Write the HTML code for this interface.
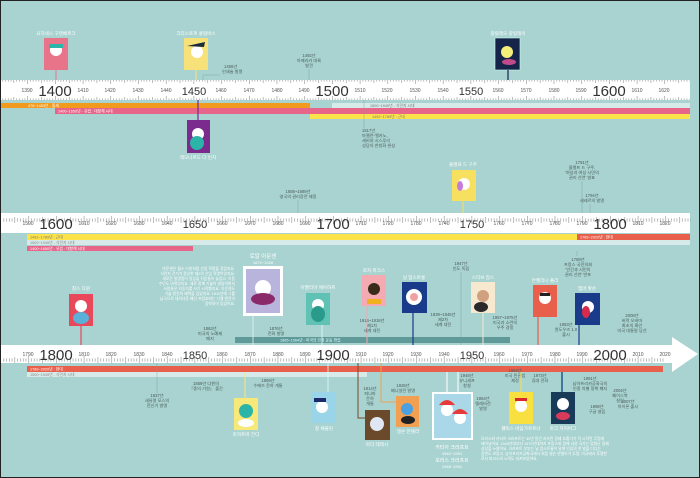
<!DOCTYPE html>
<html><head><meta charset="utf-8"><style>
html,body{margin:0;padding:0;background:#a8d3d0}
svg{display:block}
text{font-family:"Liberation Sans","Noto Sans CJK KR",sans-serif}
.s{font-size:5px;fill:#555;text-anchor:middle}
.c{font-size:15px;fill:#333;text-anchor:middle}
.n{font-size:4.2px;fill:#4a5a5a;text-anchor:middle}
.w{font-size:4.6px;fill:#fff;text-anchor:middle}
.b{font-size:3.8px;fill:#fff}
</style></head><body>
<svg width="700" height="478" viewBox="0 0 700 478" xmlns="http://www.w3.org/2000/svg">
<defs>
<pattern id="tk" patternUnits="userSpaceOnUse" width="27.7" height="20" x="0" y="0">
<g stroke="#777" stroke-width="0.5">
<line x1="0.3" y1="0" x2="0.3" y2="4"/><line x1="0.3" y1="16" x2="0.3" y2="20"/>
<line x1="14.15" y1="0" x2="14.15" y2="3"/><line x1="14.15" y1="17" x2="14.15" y2="20"/>
<line x1="3.07" y1="0" x2="3.07" y2="1.6"/><line x1="5.84" y1="0" x2="5.84" y2="1.6"/><line x1="8.61" y1="0" x2="8.61" y2="1.6"/><line x1="11.38" y1="0" x2="11.38" y2="1.6"/>
<line x1="16.92" y1="0" x2="16.92" y2="1.6"/><line x1="19.69" y1="0" x2="19.69" y2="1.6"/><line x1="22.46" y1="0" x2="22.46" y2="1.6"/><line x1="25.23" y1="0" x2="25.23" y2="1.6"/>
<line x1="3.07" y1="18.4" x2="3.07" y2="20"/><line x1="5.84" y1="18.4" x2="5.84" y2="20"/><line x1="8.61" y1="18.4" x2="8.61" y2="20"/><line x1="11.38" y1="18.4" x2="11.38" y2="20"/>
<line x1="16.92" y1="18.4" x2="16.92" y2="20"/><line x1="19.69" y1="18.4" x2="19.69" y2="20"/><line x1="22.46" y1="18.4" x2="22.46" y2="20"/><line x1="25.23" y1="18.4" x2="25.23" y2="20"/>
</g></pattern>
</defs>
<rect x="0.5" y="0.5" width="699" height="477" fill="#a8d3d0" stroke="#222" stroke-width="1"/>

<!-- ===== RULER 1 ===== -->
<rect x="1" y="80" width="689" height="20" fill="#fff"/>
<rect x="1" y="80" width="689" height="20" fill="url(#tk)" transform="translate(-0.3,0)"/>
<g class="s">
<text x="27" y="92">1390</text><text x="83" y="92">1410</text><text x="110" y="92">1420</text><text x="138" y="92">1430</text><text x="166" y="92">1440</text><text x="221" y="92">1460</text><text x="249" y="92">1470</text><text x="277" y="92">1480</text><text x="304" y="92">1490</text><text x="360" y="92">1510</text><text x="387" y="92">1520</text><text x="415" y="92">1530</text><text x="443" y="92">1540</text><text x="498" y="92">1560</text><text x="526" y="92">1570</text><text x="554" y="92">1580</text><text x="581" y="92">1590</text><text x="637" y="92">1610</text><text x="664" y="92">1620</text>
</g>
<g class="c"><text x="55" y="96">1400</text><text x="194" y="95" style="font-size:11px">1450</text><text x="332" y="96">1500</text><text x="471" y="95" style="font-size:11px">1550</text><text x="609" y="96">1600</text></g>
<rect x="1" y="103" width="309" height="5" fill="#f29a1e"/>
<rect x="332" y="103" width="358" height="5" fill="#d6ebe9"/>
<rect x="55" y="108" width="635" height="6" fill="#e8658a"/>
<rect x="310" y="114" width="380" height="5" fill="#fde34a"/>
<text class="b" x="28" y="107">476~1453년 - 중세</text>
<text class="b" x="58" y="112.5">1400~1650년 - 유럽 : 대항해 시대</text>
<text x="370" y="107" style="font-size:3.8px;fill:#777">1500~1945년 - 식민지 시대</text>
<text x="372" y="118" style="font-size:3.8px;fill:#777">1492~1789년 : 근대</text>

<text class="w" x="56" y="35">요하네스 구텐베르크</text>
<rect x="44" y="38" width="24" height="32" fill="#e8748a"/><circle cx="56" cy="50" r="6" fill="#fff"/><rect x="49" y="44" width="14" height="4" fill="#2bb5a8"/>
<line x1="56" y1="70" x2="56" y2="80" stroke="#e8748a" stroke-width="1"/>
<text class="w" x="196" y="35">크리스토퍼 콜럼버스</text>
<rect x="184" y="38" width="24" height="32" fill="#f7e27a"/><circle cx="197" cy="52" r="6" fill="#fff"/><path d="M187 46 L205 42 L204 47 Z" fill="#1a2a3a"/>
<line x1="196" y1="70" x2="196" y2="80" stroke="#f7e27a" stroke-width="1"/>
<text class="n" x="224" y="68" style="text-anchor:start">1455년</text><text class="n" x="222" y="73" style="text-anchor:start">인쇄술 발명</text>
<polyline points="203,80 203,75 220,75" fill="none" stroke="#7a9a9a" stroke-width="0.4"/>
<text class="n" x="309" y="57">1492년</text><text class="n" x="309" y="62">아메리카 대륙</text><text class="n" x="309" y="67">발견</text>
<line x1="309" y1="69" x2="309" y2="80" stroke="#7a9a9a" stroke-width="0.4"/>
<text class="w" x="508" y="35">갈릴레오 갈릴레이</text>
<rect x="495" y="38" width="25" height="32" fill="#16244a" stroke="#cfe" stroke-width="0.6"/><circle cx="507" cy="52" r="6" fill="#f4f07a"/><ellipse cx="509" cy="62" rx="7" ry="3" fill="#c04a8a"/>
<line x1="508" y1="70" x2="508" y2="80" stroke="#16244a" stroke-width="1.2"/>
<line x1="198" y1="100" x2="198" y2="120" stroke="#7b2a8e" stroke-width="1.2"/>
<rect x="187" y="120" width="23" height="33" fill="#7b2a8e"/><circle cx="198" cy="134" r="6" fill="#fff"/><ellipse cx="197" cy="143" rx="7" ry="7" fill="#2bb5a8"/>
<text class="w" x="198" y="159">레오나르도 다 빈치</text>
<line x1="364" y1="100" x2="364" y2="128" stroke="#7a9a9a" stroke-width="0.4"/>
<text class="n" x="362" y="132" style="text-anchor:start">1517년</text><text class="n" x="362" y="137" style="text-anchor:start">마젤란-엘카노,</text><text class="n" x="362" y="142" style="text-anchor:start">세비야 시스루리</text><text class="n" x="362" y="147" style="text-anchor:start">성당의 한창화 완성</text>

<!-- ===== RULER 2 ===== -->
<rect x="1" y="213" width="689" height="20" fill="#fff"/>
<rect x="1" y="213" width="689" height="20" fill="url(#tk)" transform="translate(0.7,0)"/>
<g class="s">
<text x="28" y="225">1590</text><text x="84" y="225">1610</text><text x="111" y="225">1620</text><text x="139" y="225">1630</text><text x="167" y="225">1640</text><text x="222" y="225">1660</text><text x="250" y="225">1670</text><text x="278" y="225">1680</text><text x="305" y="225">1690</text><text x="361" y="225">1710</text><text x="388" y="225">1720</text><text x="416" y="225">1730</text><text x="444" y="225">1740</text><text x="499" y="225">1760</text><text x="527" y="225">1770</text><text x="555" y="225">1780</text><text x="582" y="225">1790</text><text x="638" y="225">1810</text><text x="665" y="225">1820</text>
</g>
<g class="c"><text x="56" y="229">1600</text><text x="195" y="228" style="font-size:11px">1650</text><text x="333" y="229">1700</text><text x="472" y="228" style="font-size:11px">1750</text><text x="610" y="229">1800</text></g>
<rect x="27" y="234" width="663" height="6" fill="#fde34a"/>
<rect x="577" y="234" width="113" height="6" fill="#e8604c"/>
<rect x="27" y="240" width="663" height="5" fill="#d6ebe9"/>
<rect x="27" y="246" width="166" height="5" fill="#e8658a"/>
<text x="30" y="238.5" style="font-size:3.8px;fill:#777">1492~1789년 : 근대</text>
<text x="30" y="244" style="font-size:3.8px;fill:#888">1500~1945년 - 식민지 시대</text>
<text class="b" x="30" y="250">1400~1650년 - 유럽 : 대항해 시대</text>
<text class="b" x="580" y="238.5">1789~2020년 : 현대</text>
<text class="n" x="298" y="193">1688~1689년</text><text class="n" x="298" y="198">영국의 권리장전 제정</text>
<line x1="298" y1="200" x2="298" y2="213" stroke="#7a9a9a" stroke-width="0.4"/>
<text class="w" x="463" y="166">올랭프 드 구주</text>
<rect x="452" y="170" width="24" height="31" fill="#f7e060"/><circle cx="464" cy="184" r="6" fill="#fff"/><ellipse cx="460" cy="186" rx="3" ry="5" fill="#c77ad8"/>
<line x1="463" y1="201" x2="463" y2="213" stroke="#f7e060" stroke-width="1"/>
<text class="n" x="582" y="164">1791년</text><text class="n" x="582" y="169">올랭프 드 구주,</text><text class="n" x="582" y="174">'여성과 여성 시민의</text><text class="n" x="582" y="179">권리 선언' 발표</text>
<line x1="582" y1="181" x2="582" y2="213" stroke="#7a9a9a" stroke-width="0.4"/>
<text class="n" x="592" y="197">1794년</text><text class="n" x="592" y="202">세레르의 발명</text>
<line x1="590" y1="204" x2="590" y2="213" stroke="#7a9a9a" stroke-width="0.4"/>
<line x1="577" y1="251" x2="577" y2="256" stroke="#7a9a9a" stroke-width="0.4"/>
<text class="n" x="578" y="261">1789년</text><text class="n" x="578" y="266">프랑스 국민의회</text><text class="n" x="578" y="271">'인간과 시민의</text><text class="n" x="578" y="276">권리 선언' 반포</text>

<!-- ===== RULER 3 ===== -->
<rect x="235" y="337" width="275" height="6" fill="#5f9a98"/>
<text x="280" y="341.5" style="font-size:3.8px;fill:#dff">1865~1964년 - 미국의 민권 운동 확립</text>
<rect x="1" y="345" width="672" height="18" fill="#fff"/>
<polygon points="672,337 698,354 672,372" fill="#fff"/>
<rect x="1" y="345" width="662" height="18" fill="url(#tk)" transform="translate(0.7,0)"/>
<g class="s">
<text x="28" y="356">1790</text><text x="84" y="356">1810</text><text x="111" y="356">1820</text><text x="139" y="356">1830</text><text x="167" y="356">1840</text><text x="222" y="356">1860</text><text x="250" y="356">1870</text><text x="278" y="356">1880</text><text x="305" y="356">1890</text><text x="361" y="356">1910</text><text x="388" y="356">1920</text><text x="416" y="356">1930</text><text x="444" y="356">1940</text><text x="499" y="356">1960</text><text x="527" y="356">1970</text><text x="555" y="356">1980</text><text x="582" y="356">1990</text><text x="638" y="356">2010</text><text x="665" y="356">2020</text>
</g>
<g class="c"><text x="56" y="360">1800</text><text x="195" y="359" style="font-size:11px">1850</text><text x="333" y="360">1900</text><text x="472" y="359" style="font-size:11px">1950</text><text x="610" y="360">2000</text></g>
<rect x="27" y="366" width="636" height="6" fill="#e8604c"/>
<rect x="27" y="372" width="340" height="5" fill="#d6ebe9"/>
<text class="b" x="30" y="370.5">1789~2020년 : 현대</text>
<text x="30" y="376" style="font-size:3.8px;fill:#888">1500~1945년 - 식민지 시대</text>

<text class="w" x="81" y="290">찰스 다윈</text>
<rect x="69" y="294" width="24" height="32" fill="#e8485a"/><circle cx="81" cy="306" r="6" fill="#fff"/><ellipse cx="81" cy="318" rx="8" ry="6" fill="#5ab0d8"/>
<line x1="81" y1="326" x2="81" y2="345" stroke="#e8485a" stroke-width="1.2"/>
<text x="235" y="270" class="b" style="text-anchor:end">아문센은 월스 다윈처럼 산업 혁명을 겪었지요.</text>
<text x="235" y="275" class="b" style="text-anchor:end">식민지 건기가 증상한 제2의 산업 혁명이었지요.</text>
<text x="235" y="280" class="b" style="text-anchor:end">새로운 발명품이 일상을 뒤흔들어 놓았고, 이동</text>
<text x="235" y="285" class="b" style="text-anchor:end">수단도 바뀌었지요. 새로 함께 기술이 발달하면서</text>
<text x="235" y="290" class="b" style="text-anchor:end">사람들은 자동차를 사기 시작했지요. 아문센도</text>
<text x="235" y="295" class="b" style="text-anchor:end">기술 발전의 혜택을 입었지요. 1911년에 그를</text>
<text x="235" y="300" class="b" style="text-anchor:end">남극으로 데려다준 배인 프람호에는 디젤 엔진이</text>
<text x="235" y="305" class="b" style="text-anchor:end">장착되어 있었어요.</text>
<text class="w" x="263" y="258" style="font-size:5.5px">로알 아문센</text><text class="w" x="263" y="264" style="font-size:4px">1872~1928</text>
<rect x="243" y="266" width="40" height="50" fill="#fff"/><rect x="246" y="269" width="34" height="44" fill="#b9b4dc"/><circle cx="263" cy="288" r="8" fill="#fff"/><ellipse cx="263" cy="299" rx="12" ry="6" fill="#8a2a6a"/>
<line x1="253" y1="316" x2="253" y2="345" stroke="#e6f4f2" stroke-width="0.8"/>
<text class="n" x="276" y="330">1876년</text><text class="n" x="276" y="335">전화 발명</text>
<text class="n" x="210" y="330">1863년</text><text class="n" x="210" y="335">미국의 노예제</text><text class="n" x="210" y="340">폐지</text>
<text class="w" x="318" y="289">아멜리아 에어하트</text>
<rect x="306" y="293" width="24" height="32" fill="#5fc2b4"/><circle cx="318" cy="305" r="6" fill="#fff"/><ellipse cx="318" cy="314" rx="7" ry="8" fill="#2a9a8a"/>
<line x1="322" y1="325" x2="322" y2="345" stroke="#dff" stroke-width="0.8"/>
<text class="w" x="374" y="272">로자 파크스</text>
<rect x="362" y="275" width="24" height="31" fill="#f4aab0"/><circle cx="374" cy="289" r="6" fill="#3a2a1a"/><rect x="367" y="299" width="14" height="5" fill="#f0b020"/>
<line x1="367" y1="306" x2="367" y2="345" stroke="#f4aab0" stroke-width="1"/>
<text class="w" x="414" y="279">닐 암스트롱</text>
<rect x="402" y="282" width="25" height="31" fill="#1a3a8a"/><circle cx="414" cy="297" r="8" fill="#fff"/><circle cx="414" cy="297" r="4" fill="#f0a0a0"/>
<line x1="413" y1="313" x2="413" y2="345" stroke="#1a3a8a" stroke-width="1.2"/>
<text class="n" x="372" y="322">1914~1918년</text><text class="n" x="372" y="327">제1차</text><text class="n" x="372" y="332">세계 대전</text>
<text class="n" x="443" y="316">1939~1945년</text><text class="n" x="443" y="321">제2차</text><text class="n" x="443" y="326">세계 대전</text>
<text class="n" x="461" y="265">1947년</text><text class="n" x="461" y="270">인도 독립</text>
<line x1="461" y1="272" x2="461" y2="345" stroke="#7a9a9a" stroke-width="0.4"/>
<text class="w" x="483" y="279">스티브 잡스</text>
<rect x="471" y="282" width="24" height="31" fill="#f7e8d0"/><circle cx="483" cy="296" r="6" fill="#d0a080"/><ellipse cx="481" cy="307" rx="7" ry="5" fill="#2a2a2a"/>
<line x1="483" y1="313" x2="483" y2="345" stroke="#f7e8d0" stroke-width="1"/>
<text class="n" x="505" y="319">1957~1975년</text><text class="n" x="505" y="324">미국과 소련의</text><text class="n" x="505" y="329">우주 경쟁</text>
<text class="w" x="545" y="282">안젤리나 졸리</text>
<rect x="533" y="285" width="24" height="32" fill="#e8604c"/><circle cx="545" cy="298" r="6" fill="#fff"/><rect x="540" y="293" width="10" height="3" fill="#222"/>
<line x1="538" y1="317" x2="538" y2="345" stroke="#e8604c" stroke-width="1.2"/>
<text class="n" x="566" y="326">1983년</text><text class="n" x="566" y="331">윈도우즈 1.0</text><text class="n" x="566" y="336">출시</text>
<text class="w" x="587" y="290">엠마 왓슨</text>
<rect x="575" y="293" width="25" height="32" fill="#1a3a8a"/><circle cx="588" cy="307" r="6" fill="#fff"/><ellipse cx="586" cy="312" rx="4" ry="6" fill="#d82a4a"/>
<line x1="579" y1="325" x2="579" y2="345" stroke="#1a3a8a" stroke-width="1.2"/>
<text class="n" x="632" y="317">2008년</text><text class="n" x="632" y="322">버락 오바마</text><text class="n" x="632" y="327">최초의 흑인</text><text class="n" x="632" y="332">미국 대통령 당선</text>

<line x1="157" y1="363" x2="157" y2="393" stroke="#7a9a9a" stroke-width="0.4"/>
<text class="n" x="157" y="397">1837년</text><text class="n" x="157" y="402">새뮤얼 모스의</text><text class="n" x="157" y="407">전신기 발명</text>
<text class="n" x="206" y="385">1859년 다윈의</text><text class="n" x="206" y="390">『종의 기원』 출간</text>
<text class="n" x="268" y="382">1869년</text><text class="n" x="268" y="387">수에즈 운하 개통</text>
<line x1="245" y1="372" x2="245" y2="398" stroke="#f7e87a" stroke-width="1"/>
<rect x="234" y="398" width="24" height="32" fill="#f7e87a"/><circle cx="246" cy="411" r="7" fill="#2bb5a8"/><ellipse cx="246" cy="423" rx="8" ry="4" fill="#fff"/>
<text class="w" x="246" y="436">마하트마 간디</text>
<line x1="328" y1="363" x2="328" y2="392" stroke="#dff" stroke-width="0.8"/>
<rect x="312" y="392" width="24" height="31" fill="#9ad4e8"/><circle cx="322" cy="407" r="6" fill="#fff"/><rect x="314" y="398" width="12" height="4" fill="#1a2a6a"/>
<text class="w" x="324" y="430">찰 채플린</text>
<polyline points="358,363 358,418 365,418" fill="none" stroke="#7a4a2a" stroke-width="1"/>
<rect x="365" y="410" width="25" height="30" fill="#6a4a2a"/><circle cx="377" cy="424" r="7" fill="#dfe6f4"/>
<text class="w" x="377" y="446">마더 테레사</text>
<text class="n" x="370" y="390">1914년</text><text class="n" x="370" y="395">파나마</text><text class="n" x="370" y="400">운하</text><text class="n" x="370" y="405">개통</text>
<polyline points="381,363 381,402 396,402" fill="none" stroke="#f0a050" stroke-width="1"/>
<rect x="396" y="396" width="23" height="31" fill="#f0a050"/><circle cx="407" cy="409" r="6" fill="#4aa0e0"/><ellipse cx="408" cy="420" rx="7" ry="4" fill="#222"/>
<text class="w" x="408" y="433">넬슨 만델라</text>
<text class="n" x="403" y="387">1928년</text><text class="n" x="403" y="392">페니실린 발명</text>
<line x1="447" y1="372" x2="447" y2="392" stroke="#fff" stroke-width="1"/>
<line x1="458" y1="372" x2="458" y2="392" stroke="#fff" stroke-width="1"/>
<rect x="432" y="392" width="41" height="48" fill="#fff"/><rect x="434" y="394" width="37" height="44" fill="#aad8e8"/><circle cx="447" cy="410" r="6" fill="#fff"/><path d="M439 405 Q447 395 455 405 Z" fill="#e83a3a"/><circle cx="460" cy="418" r="6" fill="#fff"/><path d="M452 414 Q460 404 468 414 Z" fill="#e83a3a"/>
<text class="w" x="452" y="449" style="font-size:5px">카티아 크라프트</text><text class="w" x="452" y="455" style="font-size:4px">1942~1991</text>
<text class="w" x="452" y="462" style="font-size:5px">모리스 크라프트</text><text class="w" x="452" y="468" style="font-size:4px">1946~1991</text>
<text class="n" x="467" y="377">1948년</text><text class="n" x="467" y="382">유니세프</text><text class="n" x="467" y="387">창설</text>
<text class="n" x="483" y="400">1954년</text><text class="n" x="483" y="405">텔레비전</text><text class="n" x="483" y="410">발명</text>
<text class="n" x="515" y="372">1964년</text><text class="n" x="515" y="377">미국 민권법</text><text class="n" x="515" y="382">제정</text>
<line x1="521" y1="372" x2="521" y2="392" stroke="#f7e040" stroke-width="1"/>
<rect x="509" y="392" width="24" height="32" fill="#f7e040"/><circle cx="521" cy="406" r="6" fill="#fff"/><rect x="515" y="398" width="12" height="3" fill="#d82a2a"/>
<text class="w" x="521" y="430">펠릭스 바움가르트너</text>
<text class="n" x="540" y="377">1973년</text><text class="n" x="540" y="382">휴대 전화</text>
<line x1="562" y1="372" x2="562" y2="392" stroke="#1a5a8a" stroke-width="1.5"/>
<rect x="551" y="392" width="24" height="32" fill="#1a3a5a"/><circle cx="563" cy="404" r="6" fill="#fff"/><ellipse cx="563" cy="416" rx="7" ry="4" fill="#d83a5a"/>
<text class="w" x="563" y="430">마크 저커버그</text>
<text class="n" x="590" y="380">1991년</text><text class="n" x="590" y="385">남아프리카공화국의</text><text class="n" x="590" y="390">인종 차별 정책 폐지</text>
<text class="n" x="597" y="408">1998년</text><text class="n" x="597" y="413">구글 설립</text>
<text class="n" x="620" y="392">2004년</text><text class="n" x="620" y="397">페이스북</text><text class="n" x="620" y="402">설립</text>
<text class="n" x="628" y="403">2007년</text><text class="n" x="628" y="408">아이폰 출시</text>
<g class="b">
<text x="481" y="440">모리스와 카티아 크라프트는 30년 동안 지속된 경제 호황기가 막 시작된 무렵에</text>
<text x="481" y="445">태어났어요. 1940년대부터 1970년대까지 프랑스와 함께 서양 국가는 엄청난 경제</text>
<text x="481" y="450">성장을 누렸어요. 크라프트 부부는 닐 암스트롱이 달에 인류의 첫 발을 디디는</text>
<text x="481" y="455">장면도 보았고, 남아프리카공화국에서 처음 넬슨 만델라가 투쟁, 미국에서 투쟁한</text>
<text x="481" y="460">로자 파크스의 노력도 지켜보았어요.</text>
</g>
</svg>
</body></html>
